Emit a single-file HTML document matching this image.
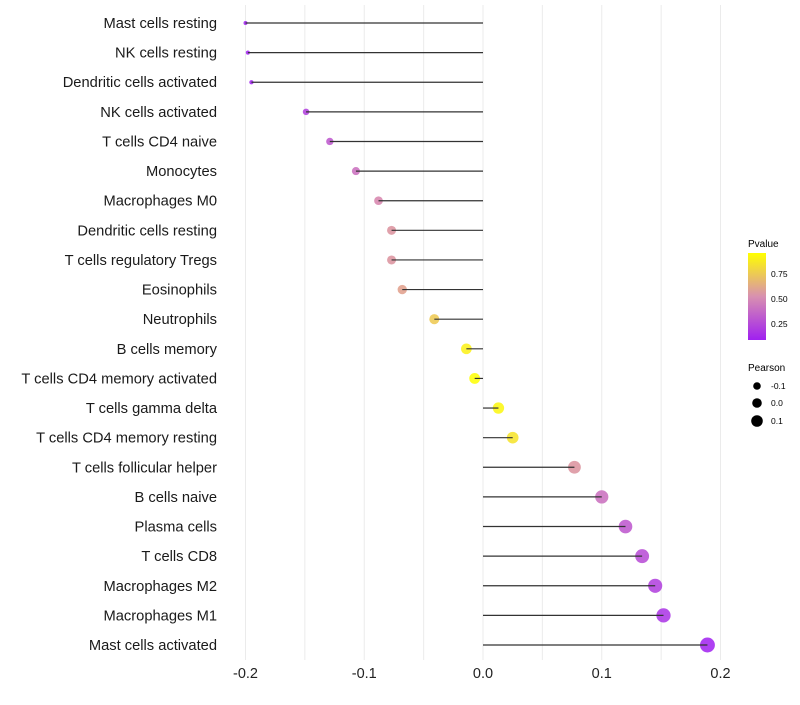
<!DOCTYPE html>
<html><head><meta charset="utf-8">
<style>
body{margin:0;background:#fff;font-family:"Liberation Sans",Arial,sans-serif}
svg text{font-family:"Liberation Sans",Arial,sans-serif}
</style></head>
<body>
<svg id="chart" width="800" height="700">
<g id="grid"></g>
<g id="dots"></g>
<g id="marks"></g>
<g id="labels"></g>
<g id="legend">
 <defs><linearGradient id="pg" x1="0" y1="1" x2="0" y2="0">
  <stop offset="0" stop-color="#a020f0"/><stop offset="0.5" stop-color="#d890b0"/><stop offset="1" stop-color="#ffff00"/>
 </linearGradient></defs>
 <text x="748" y="247" font-size="10">Pvalue</text>
 <rect x="748" y="253" width="18" height="87" fill="url(#pg)"/>
 <text x="771" y="277" font-size="8.5">0.75</text>
 <text x="771" y="302" font-size="8.5">0.50</text>
 <text x="771" y="327" font-size="8.5">0.25</text>
 <text x="748" y="371" font-size="10">Pearson</text>
 <circle cx="757" cy="386" r="3.8" fill="#000"/>
 <circle cx="757" cy="403" r="4.8" fill="#000"/>
 <circle cx="757" cy="421" r="5.8" fill="#000"/>
 <text x="771" y="389" font-size="8.5">-0.1</text>
 <text x="771" y="406" font-size="8.5">0.0</text>
 <text x="771" y="424" font-size="8.5">0.1</text>
</g>
</svg>
<script>
const categories=["Mast cells resting","NK cells resting","Dendritic cells activated","NK cells activated","T cells CD4 naive","Monocytes","Macrophages M0","Dendritic cells resting","T cells regulatory  Tregs ","Eosinophils","Neutrophils","B cells memory","T cells CD4 memory activated","T cells gamma delta","T cells CD4 memory resting","T cells follicular helper","B cells naive","Plasma cells","T cells CD8","Macrophages M2","Macrophages M1","Mast cells activated"];
const pearson=[-0.200,-0.198,-0.195,-0.149,-0.129,-0.107,-0.088,-0.077,-0.077,-0.068,-0.041,-0.014,-0.007,0.013,0.025,0.077,0.100,0.120,0.134,0.145,0.152,0.189];
const pvalues=[0.02,0.03,0.05,0.2,0.3,0.4,0.5,0.55,0.55,0.6,0.75,0.9,0.97,0.92,0.85,0.55,0.4,0.3,0.25,0.2,0.15,0.05];
const xTicks=[-0.2,-0.1,0,0.1,0.2];
const xTickLabels=["-0.2","-0.1","0.0","0.1","0.2"];
const NS="http://www.w3.org/2000/svg";
const xs=v=>483+v*1187.5;
const ys=i=>23+i*(645-23)/(categories.length-1);
const rs=v=>Math.sqrt(Math.max(1,4+(v+0.2)*133));
function mk(t,a,p){const e=document.createElementNS(NS,t);for(const k in a)e.setAttribute(k,a[k]);p.appendChild(e);return e;}
function lerp(a,b,t){return a.map((x,i)=>Math.round(x+(b[i]-x)*t));}
function col(p){const lo=[160,32,240],mid=[216,135,170],hi=[255,255,0];const t=Math.max(0,Math.min(1,(p-0.08)/0.87));const c=t<0.5?lerp(lo,mid,t*2):lerp(mid,hi,(t-0.5)*2);return `rgb(${c})`;}
const grid=document.getElementById('grid'),marks=document.getElementById('marks'),dots=document.getElementById('dots'),labels=document.getElementById('labels');
for(let v=-0.2;v<=0.2001;v+=0.05){
 const g=mk('line',{x1:xs(v),x2:xs(v),y1:5,y2:660,stroke:'#ebebeb','stroke-width':1},grid);
 
 
}
xTicks.forEach((v,i)=>{
 const t=mk('text',{x:xs(v),y:678,'font-size':14.5,'text-anchor':'middle',fill:'#222'},labels);
 t.textContent=xTickLabels[i];
 
 
});
categories.forEach((c,i)=>{
 const y=ys(i);
 const t=mk('text',{x:217,y:y+5,'font-size':14.7,'text-anchor':'end',fill:'#1a1a1a'},labels);
 t.textContent=c;
 
 
 const d=mk('circle',{cx:xs(pearson[i]),cy:y,r:rs(pearson[i]),fill:col(pvalues[i]),'fill-opacity':0.85},dots);
 
 
 const l=mk('line',{x1:xs(0),x2:xs(pearson[i]),y1:y,y2:y,stroke:'#333','stroke-width':1.2},marks);
 
 
});
</script>
</body></html>
